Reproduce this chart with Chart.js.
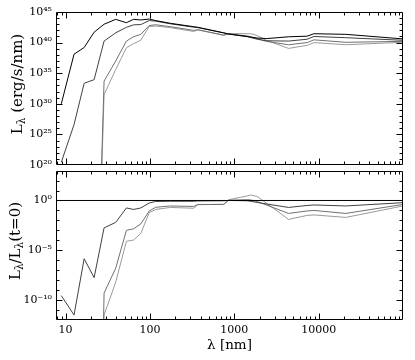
<!DOCTYPE html>
<html><head><meta charset="utf-8">
<script src="https://cdn.jsdelivr.net/npm/chart.js@4/dist/chart.umd.min.js"></script>
<style>
html,body{margin:0;padding:0;background:#fff;width:415px;height:360px;overflow:hidden}
canvas{position:absolute;left:0}
#top{top:0}
#bot{top:160px}
</style></head><body>
<canvas id="top" width="415" height="180"></canvas>
<canvas id="bot" width="415" height="200"></canvas>
<script>
// wavelength grid (nm)
const wavelengthNm = [8.9, 12.6, 16.6, 21.8, 28.6, 39.3, 52.6, 64, 78, 98, 117, 175, 330, 370, 750, 860, 1420, 1570, 1870, 2400, 4400, 7300, 8800, 21000, 100000];
// log10 of L_lambda (erg/s/nm), four epochs (t=0 first)
const logL_0 = [30.0, 38.1, 39.2, 41.7, 43.0, 43.8, 43.25, 43.8, 43.7, 43.85, 43.6, 43.15, 42.6, 42.5, 41.6, 41.4, 41.0, 40.9, 40.75, 40.65, 40.95, 41.05, 41.45, 41.35, 40.6];
const logL_1 = [20.45, 26.6, 33.35, 33.95, 40.25, 41.6, 42.5, 42.9, 42.95, 43.6, 43.5, 43.07, 42.52, 42.45, 41.57, 41.4, 40.97, 40.82, 40.55, 40.3, 40.25, 40.55, 41.0, 40.8, 40.38];
const logL_2 = [null, null, null, -20.3, 33.7, 37.0, 40.25, 40.96, 41.35, 42.79, 42.92, 42.6, 42.0, 42.1, 41.2, 41.43, 41.08, 40.95, 40.65, 40.2, 39.65, 40.0, 40.45, 40.05, 40.2];
const logL_3 = [null, null, null, -22.3, 31.5, 35.6, 39.15, 39.83, 40.4, 42.63, 42.7, 42.45, 41.82, 42.08, 41.22, 41.48, 41.45, 41.45, 41.15, 40.38, 39.05, 39.55, 40.0, 39.65, 40.05];
// log10 of L_lambda / L_lambda(t=0)
const logRatio_1 = [-9.55, -11.5, -5.85, -7.75, -2.75, -2.2, -0.75, -0.9, -0.75, -0.25, -0.1, -0.08, -0.08, -0.05, -0.03, 0.0, -0.03, -0.08, -0.2, -0.35, -0.7, -0.5, -0.45, -0.55, -0.22];
const logRatio_2 = [null, null, null, -62, -9.3, -6.8, -3.0, -2.84, -2.35, -1.06, -0.68, -0.55, -0.6, -0.4, -0.4, 0.03, 0.08, 0.05, -0.1, -0.45, -1.3, -1.05, -1.0, -1.3, -0.4];
const logRatio_3 = [null, null, null, -64, -11.5, -8.2, -4.1, -3.97, -3.3, -1.22, -0.9, -0.7, -0.78, -0.42, -0.38, 0.08, 0.45, 0.55, 0.4, -0.27, -1.9, -1.5, -1.45, -1.7, -0.55];
const unityLevel = 1;

// axes
const xAxisRange = [7.7, 100000];
const xTickValues = [10, 100, 1000, 10000];
const xTickLabels = ['10', '100', '1000', '10000'];
const topYRange = [1e20, 1e45];
const topYTickValues = [1e20, 1e25, 1e30, 1e35, 1e40, 1e45];
const topYTickLabels = ['10²⁰', '10²⁵', '10³⁰', '10³⁵', '10⁴⁰', '10⁴⁵'];
const botYRange = [1e-12, 1e3];
const botYTickValues = [1e-10, 1e-5, 1e0];
const botYTickLabels = ['10⁻¹⁰', '10⁻⁵', '10⁰'];
const seriesColors = ['#000000', '#404040', '#707070', '#9a9a9a'];

const FAM = "'DejaVu Serif', serif";
const pts = (ys) => wavelengthNm.map((x, i) => ({x: x, y: ys[i] == null ? null : Math.pow(10, ys[i])}));
const ds = (data, color) => ({data: data, borderColor: color, borderWidth: 1, pointRadius: 0, tension: 0, fill: false, clip: 0, spanGaps: false});

const frameTicks = {
  id: 'frameTicks',
  afterDatasetsDraw(chart) {
    const {ctx, chartArea: a, scales} = chart;
    const xs = scales.x, ys = scales.y;
    ctx.save();
    ctx.strokeStyle = '#000';
    ctx.lineWidth = 1;
    const L = Math.round(a.left) + 0.5, R = Math.round(a.right) - 0.5, T = Math.round(a.top) + 0.5, B = Math.round(a.bottom) - 0.5;
    ctx.beginPath();
    ctx.rect(L, T, R - L, B - T);
    ctx.stroke();
    ctx.beginPath();
    const e0 = Math.floor(Math.log10(xs.min) + 1e-9), e1 = Math.ceil(Math.log10(xs.max) - 1e-9);
    for (let e = e0; e <= e1; e++) {
      for (let k = 1; k <= 9; k++) {
        const v = k * Math.pow(10, e);
        if (v < xs.min * 1.0001 || v > xs.max * 0.9999) continue;
        const len = k === 1 ? 6 : 3;
        const px = Math.round(xs.getPixelForValue(v)) + 0.5;
        ctx.moveTo(px, B); ctx.lineTo(px, B - len);
        ctx.moveTo(px, T); ctx.lineTo(px, T + len);
      }
    }
    const f0 = Math.ceil(Math.log10(ys.min) - 1e-9), f1 = Math.floor(Math.log10(ys.max) + 1e-9);
    for (let e = f0; e <= f1; e++) {
      const v = Math.pow(10, e);
      if (v <= ys.min * 1.0001 || v >= ys.max * 0.9999) continue;
      const len = (e % 5 === 0) ? 6 : 3;
      const py = Math.round(ys.getPixelForValue(v)) + 0.5;
      ctx.moveTo(L, py); ctx.lineTo(L + len, py);
      ctx.moveTo(R, py); ctx.lineTo(R - len, py);
    }
    ctx.stroke();
    ctx.restore();
  }
};

function titlePlugin(parts, bx, cy, size) {
  return {
    id: 'richTitle',
    afterDraw(chart) {
      const ctx = chart.ctx;
      ctx.save();
      ctx.fillStyle = '#000';
      ctx.textBaseline = 'alphabetic';
      ctx.textAlign = 'left';
      const small = size * 0.7;
      let total = 0;
      const widths = parts.map(p => { ctx.font = (p.sub ? small : size) + 'px ' + FAM; const w = ctx.measureText(p.text).width; total += w; return w; });
      ctx.translate(bx, cy);
      ctx.rotate(-Math.PI / 2);
      let cx = -total / 2;
      parts.forEach((p, i) => {
        ctx.font = (p.sub ? small : size) + 'px ' + FAM;
        ctx.fillText(p.text, cx, p.sub ? size * 0.22 : 0);
        cx += widths[i];
      });
      ctx.restore();
    }
  };
}

const tickFont = {family: FAM, size: 11};
function yScale(range, tv, tl) {
  return {
    type: 'logarithmic', min: range[0], max: range[1],
    afterBuildTicks: s => { s.ticks = tv.map(v => ({value: v})); },
    afterFit: s => { s.width = 56; },
    grid: {display: false, drawTicks: false}, border: {display: false},
    ticks: {callback: (v, i) => tl[i], font: tickFont, color: '#000', padding: 4, autoSkip: false}
  };
}

new Chart(document.getElementById('top'), {
  type: 'line',
  data: {datasets: [
    ds(pts(logL_0), seriesColors[0]),
    ds(pts(logL_1), seriesColors[1]),
    ds(pts(logL_2), seriesColors[2]),
    ds(pts(logL_3), seriesColors[3])
  ]},
  options: {
    responsive: false, animation: false, events: [],
    layout: {padding: {left: 0, right: 12, top: 12, bottom: 15}},
    plugins: {legend: {display: false}, tooltip: {enabled: false}},
    scales: {
      x: {type: 'logarithmic', min: xAxisRange[0], max: xAxisRange[1], display: false},
      y: yScale(topYRange, topYTickValues, topYTickLabels)
    }
  },
  plugins: [frameTicks, titlePlugin([{text: 'L'}, {text: 'λ', sub: true}, {text: ' (erg/s/nm)'}], 22, 84, 15)]
});

new Chart(document.getElementById('bot'), {
  type: 'line',
  data: {datasets: [
    ds([{x: xAxisRange[0], y: unityLevel}, {x: xAxisRange[1], y: unityLevel}], seriesColors[0]),
    ds(pts(logRatio_1), seriesColors[1]),
    ds(pts(logRatio_2), seriesColors[2]),
    ds(pts(logRatio_3), seriesColors[3])
  ]},
  options: {
    responsive: false, animation: false, events: [],
    layout: {padding: {left: 0, right: 12, top: 5, bottom: 0}},
    plugins: {legend: {display: false}, tooltip: {enabled: false}},
    scales: {
      x: {
        type: 'logarithmic', min: xAxisRange[0], max: xAxisRange[1],
        afterBuildTicks: s => { s.ticks = xTickValues.map(v => ({value: v})); },
        afterFit: s => { s.height = 40; },
        grid: {display: false, drawTicks: false}, border: {display: false},
        ticks: {callback: (v, i) => xTickLabels[i], font: tickFont, color: '#000', padding: 4, maxRotation: 0, autoSkip: false},
        title: {display: true, text: 'λ [nm]', font: {family: FAM, size: 13.5}, color: '#000', padding: {top: 0, bottom: 6.5}}
      },
      y: yScale(botYRange, botYTickValues, botYTickLabels)
    }
  },
  plugins: [frameTicks, titlePlugin([{text: 'L'}, {text: 'λ', sub: true}, {text: '/L'}, {text: 'λ', sub: true}, {text: '(t=0)'}], 19.5, 81, 15)]
});
</script>
</body></html>
